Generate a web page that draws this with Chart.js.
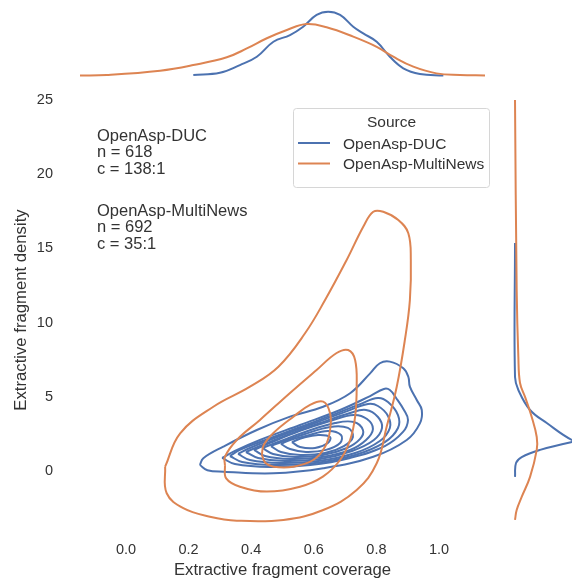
<!DOCTYPE html>
<html lang="en">
<head>
  <meta charset="UTF-8" />
  <title>OpenAsp coverage vs density</title>
  <script src="https://cdn.jsdelivr.net/npm/chart.js"></script>
  <style>
    body {
      margin: 0;
      background: #fff;
      overflow: hidden;
    }
    canvas {
      position: absolute;
    }
    #mainChart { left: 0; top: 0; }
    #topChart { left: 60px; top: 0; }
    #rightChart { left: 512px; top: 79px; }
  </style>
</head>
<body>

<canvas id="mainChart" width="572" height="580"></canvas>
<canvas id="topChart" width="445" height="78"></canvas>
<canvas id="rightChart" width="60" height="462"></canvas>

<script>
const sources = ['OpenAsp-DUC', 'OpenAsp-MultiNews'];
const sampleCounts = [618, 692];
const compressionRatios = ['138:1', '35:1'];
const xTicks = [0.0, 0.2, 0.4, 0.6, 0.8, 1.0];
const yTicks = [0, 5, 10, 15, 20, 25];

// KDE contour lines, [coverage, density], outer level first
const ducContours = [
  [[0.236,0.40],[0.260,0.05],[0.311,-0.05],[0.471,-0.16],[0.630,0.18],[0.790,0.96],[0.897,2.09],[0.939,3.21],[0.945,4.11],[0.929,4.78],[0.907,5.68],[0.902,6.35],[0.886,6.92],[0.843,7.37],[0.811,7.26],[0.780,6.58],[0.716,5.24],[0.630,4.33],[0.524,3.66],[0.418,2.76],[0.311,1.64],[0.247,0.86],[0.236,0.40]],
  [[0.307,0.88],[0.348,0.47],[0.460,0.27],[0.588,0.40],[0.716,0.88],[0.827,1.68],[0.885,2.63],[0.901,3.44],[0.888,4.11],[0.863,4.92],[0.843,5.46],[0.824,5.53],[0.780,5.05],[0.684,4.11],[0.556,3.10],[0.428,2.09],[0.348,1.35],[0.307,0.88]],
  [[0.332,1.01],[0.371,0.61],[0.476,0.40],[0.604,0.54],[0.732,1.08],[0.827,1.95],[0.869,2.90],[0.869,3.77],[0.837,4.65],[0.805,4.92],[0.748,4.51],[0.652,3.71],[0.540,2.83],[0.428,1.95],[0.364,1.42],[0.332,1.01]],
  [[0.358,1.15],[0.396,0.74],[0.492,0.54],[0.614,0.67],[0.732,1.21],[0.811,2.02],[0.843,2.90],[0.837,3.71],[0.805,4.38],[0.773,4.51],[0.700,3.98],[0.604,3.23],[0.492,2.36],[0.396,1.55],[0.358,1.15]],
  [[0.383,1.28],[0.422,0.88],[0.508,0.67],[0.620,0.81],[0.722,1.35],[0.792,2.09],[0.818,2.90],[0.805,3.64],[0.767,4.11],[0.716,3.91],[0.620,3.23],[0.524,2.49],[0.428,1.68],[0.383,1.28]],
  [[0.409,1.42],[0.444,1.01],[0.524,0.81],[0.626,0.94],[0.716,1.42],[0.767,2.09],[0.789,2.83],[0.770,3.50],[0.728,3.77],[0.652,3.37],[0.556,2.70],[0.460,1.89],[0.409,1.42]],
  [[0.435,1.55],[0.470,1.15],[0.540,0.94],[0.629,1.08],[0.706,1.55],[0.748,2.16],[0.757,2.76],[0.728,3.30],[0.668,3.23],[0.572,2.63],[0.486,1.95],[0.435,1.55]],
  [[0.463,1.68],[0.495,1.28],[0.556,1.08],[0.636,1.21],[0.696,1.68],[0.725,2.29],[0.709,2.90],[0.652,2.97],[0.572,2.49],[0.505,2.02],[0.463,1.68]],
  [[0.495,1.82],[0.524,1.48],[0.575,1.28],[0.639,1.42],[0.684,1.89],[0.687,2.43],[0.645,2.70],[0.575,2.36],[0.524,2.09],[0.495,1.82]],
  [[0.530,1.95],[0.556,1.62],[0.604,1.55],[0.645,1.89],[0.652,2.29],[0.614,2.43],[0.563,2.22],[0.530,1.95]]
];
const multiNewsContours = [
  [[0.125,0.29],[0.130,-1.50],[0.183,-2.51],[0.268,-3.08],[0.354,-3.35],[0.503,-3.30],[0.630,-2.63],[0.737,-1.28],[0.801,0.52],[0.833,2.99],[0.865,5.68],[0.891,8.83],[0.907,11.52],[0.910,14.22],[0.902,16.02],[0.870,16.91],[0.822,17.47],[0.790,17.47],[0.758,16.46],[0.705,14.22],[0.636,11.52],[0.572,9.28],[0.487,7.03],[0.396,5.68],[0.279,4.33],[0.173,2.54],[0.125,0.29]],
  [[0.316,0.40],[0.320,-0.50],[0.364,-1.06],[0.450,-1.39],[0.556,-1.06],[0.629,-0.38],[0.684,0.74],[0.716,2.09],[0.732,3.66],[0.737,5.68],[0.732,7.48],[0.710,8.15],[0.673,7.95],[0.609,6.81],[0.524,5.26],[0.428,3.44],[0.354,2.09],[0.316,0.96],[0.316,0.40]],
  [[0.434,1.10],[0.445,0.55],[0.471,0.29],[0.535,0.29],[0.598,0.74],[0.636,1.64],[0.652,2.76],[0.652,3.89],[0.630,4.67],[0.588,4.45],[0.535,3.66],[0.471,2.56],[0.440,1.75],[0.434,1.10]]
];

// marginal KDEs: coverage -> density of coverage
const ducCoverageKde = [[0.215,0.02],[0.300,0.10],[0.364,0.39],[0.418,0.70],[0.471,1.26],[0.524,1.51],[0.566,1.82],[0.609,2.26],[0.646,2.38],[0.684,2.26],[0.726,1.82],[0.758,1.57],[0.801,1.26],[0.843,0.70],[0.886,0.27],[0.939,0.06],[1.014,0.0]];
const multiNewsCoverageKde = [[-0.147,0.0],[-0.062,0.02],[0.109,0.18],[0.215,0.39],[0.322,0.68],[0.386,1.01],[0.450,1.39],[0.514,1.70],[0.577,1.92],[0.641,1.80],[0.726,1.45],[0.801,1.07],[0.854,0.70],[0.918,0.33],[0.992,0.08],[1.067,0.02],[1.147,0.0]];
// marginal KDEs: [density of fragment density, fragment density]
const ducDensityKde = [[0.003,15.36],[0.003,6.33],[0.023,5.46],[0.093,4.11],[0.193,3.23],[0.343,2.09],[0.40,2.02],[0.343,1.95],[0.153,1.42],[0.043,0.94],[0.009,0.54],[0.003,-0.40]];
const multiNewsDensityKde = [[0.003,25.0],[0.013,12.2],[0.023,7.68],[0.033,5.93],[0.063,4.99],[0.103,3.64],[0.133,2.29],[0.133,1.42],[0.093,-0.40],[0.043,-1.75],[0.013,-2.63],[0.003,-3.30]];

const colors = ['#4c72b0', '#dd8452'];
const X_MIN = -0.2109, X_MAX = 1.2109;
const Y_MIN = -4.72, Y_MAX = 26.42;

Chart.defaults.font.family = "'Liberation Sans', Arial, sans-serif";
Chart.defaults.color = '#333';

function toPoints(pairs) {
  return pairs.map(([x, y]) => ({ x, y }));
}

function lineSet(pairs, color, order) {
  return {
    data: toPoints(pairs),
    showLine: true,
    borderColor: color,
    borderWidth: 2,
    pointRadius: 0,
    tension: 0.4,
    fill: false,
    order: order
  };
}

const baseOpts = {
  responsive: false,
  animation: false,
  events: [],
  plugins: { legend: { display: false }, tooltip: { enabled: false } }
};

// annotation text + legend box
const overlayPlugin = {
  id: 'overlay',
  afterDraw(chart) {
    const ctx = chart.ctx;
    ctx.save();
    ctx.fillStyle = '#333';
    ctx.font = "16.5px 'Liberation Sans', Arial, sans-serif";
    ctx.textAlign = 'left';
    ctx.textBaseline = 'alphabetic';
    sources.forEach((s, i) => {
      const y0 = 140.5 + i * 75;
      ctx.fillText(s, 97, y0);
      ctx.fillText('n = ' + sampleCounts[i], 97, y0 + 16.7);
      ctx.fillText('c = ' + compressionRatios[i], 97, y0 + 33.4);
    });

    // legend
    const bx = 293.5, by = 108.5, bw = 196, bh = 79;
    ctx.beginPath();
    ctx.roundRect(bx, by, bw, bh, 3);
    ctx.fillStyle = 'rgba(255,255,255,0.8)';
    ctx.fill();
    ctx.strokeStyle = '#d6d6d6';
    ctx.lineWidth = 1;
    ctx.stroke();
    ctx.fillStyle = '#333';
    ctx.font = "15.5px 'Liberation Sans', Arial, sans-serif";
    ctx.textAlign = 'center';
    ctx.fillText('Source', bx + bw / 2, 126.5);
    ctx.textAlign = 'left';
    sources.forEach((s, i) => {
      const ly = 143 + i * 20.5;
      ctx.strokeStyle = colors[i];
      ctx.lineWidth = 2;
      ctx.beginPath();
      ctx.moveTo(298, ly);
      ctx.lineTo(330, ly);
      ctx.stroke();
      ctx.fillText(s, 343, ly + 5.5);
    });
    ctx.restore();
  }
};

const mainDatasets = [];
multiNewsContours.forEach(c => mainDatasets.push(lineSet(c, colors[1], 0)));
ducContours.forEach(c => mainDatasets.push(lineSet(c, colors[0], 1)));

new Chart(document.getElementById('mainChart'), {
  type: 'scatter',
  data: { datasets: mainDatasets },
  options: {
    ...baseOpts,
    layout: { padding: { top: 79, right: 67, left: 0, bottom: 0 } },
    scales: {
      x: {
        type: 'linear', min: X_MIN, max: X_MAX,
        grid: { display: false, drawTicks: false }, border: { display: false },
        ticks: { font: { size: 14.5 }, padding: 0, callback: v => Number(v).toFixed(1) },
        afterBuildTicks: s => { s.ticks = xTicks.map(v => ({ value: v })); },
        afterFit: s => { s.height = 39; },
        title: { display: true, text: 'Extractive fragment coverage', font: { size: 16.7 }, padding: { top: 0, bottom: 0 } }
      },
      y: {
        type: 'linear', min: Y_MIN, max: Y_MAX,
        grid: { display: false, drawTicks: false }, border: { display: false },
        ticks: { font: { size: 14.5 }, padding: 7, callback: v => String(v) },
        afterBuildTicks: s => { s.ticks = yTicks.map(v => ({ value: v })); },
        afterFit: s => { s.width = 60; },
        title: { display: true, text: 'Extractive fragment density', font: { size: 16.7 }, padding: { top: 11, bottom: 0 } }
      }
    }
  },
  plugins: [overlayPlugin]
});

// top marginal (coverage)
new Chart(document.getElementById('topChart'), {
  type: 'scatter',
  data: { datasets: [lineSet(ducCoverageKde, colors[0], 1), lineSet(multiNewsCoverageKde, colors[1], 0)] },
  options: {
    ...baseOpts,
    layout: { padding: 0 },
    scales: {
      x: { type: 'linear', display: false, min: X_MIN, max: X_MAX },
      y: { type: 'linear', display: false, min: -0.093, max: 2.817 }
    }
  }
});

// right marginal (density)
new Chart(document.getElementById('rightChart'), {
  type: 'scatter',
  data: { datasets: [lineSet(ducDensityKde, colors[0], 1), lineSet(multiNewsDensityKde, colors[1], 0)] },
  options: {
    ...baseOpts,
    layout: { padding: 0 },
    scales: {
      x: { type: 'linear', display: false, min: -0.015, max: 0.344 },
      y: { type: 'linear', display: false, min: Y_MIN, max: Y_MAX }
    }
  }
});
</script>

</body>
</html>
